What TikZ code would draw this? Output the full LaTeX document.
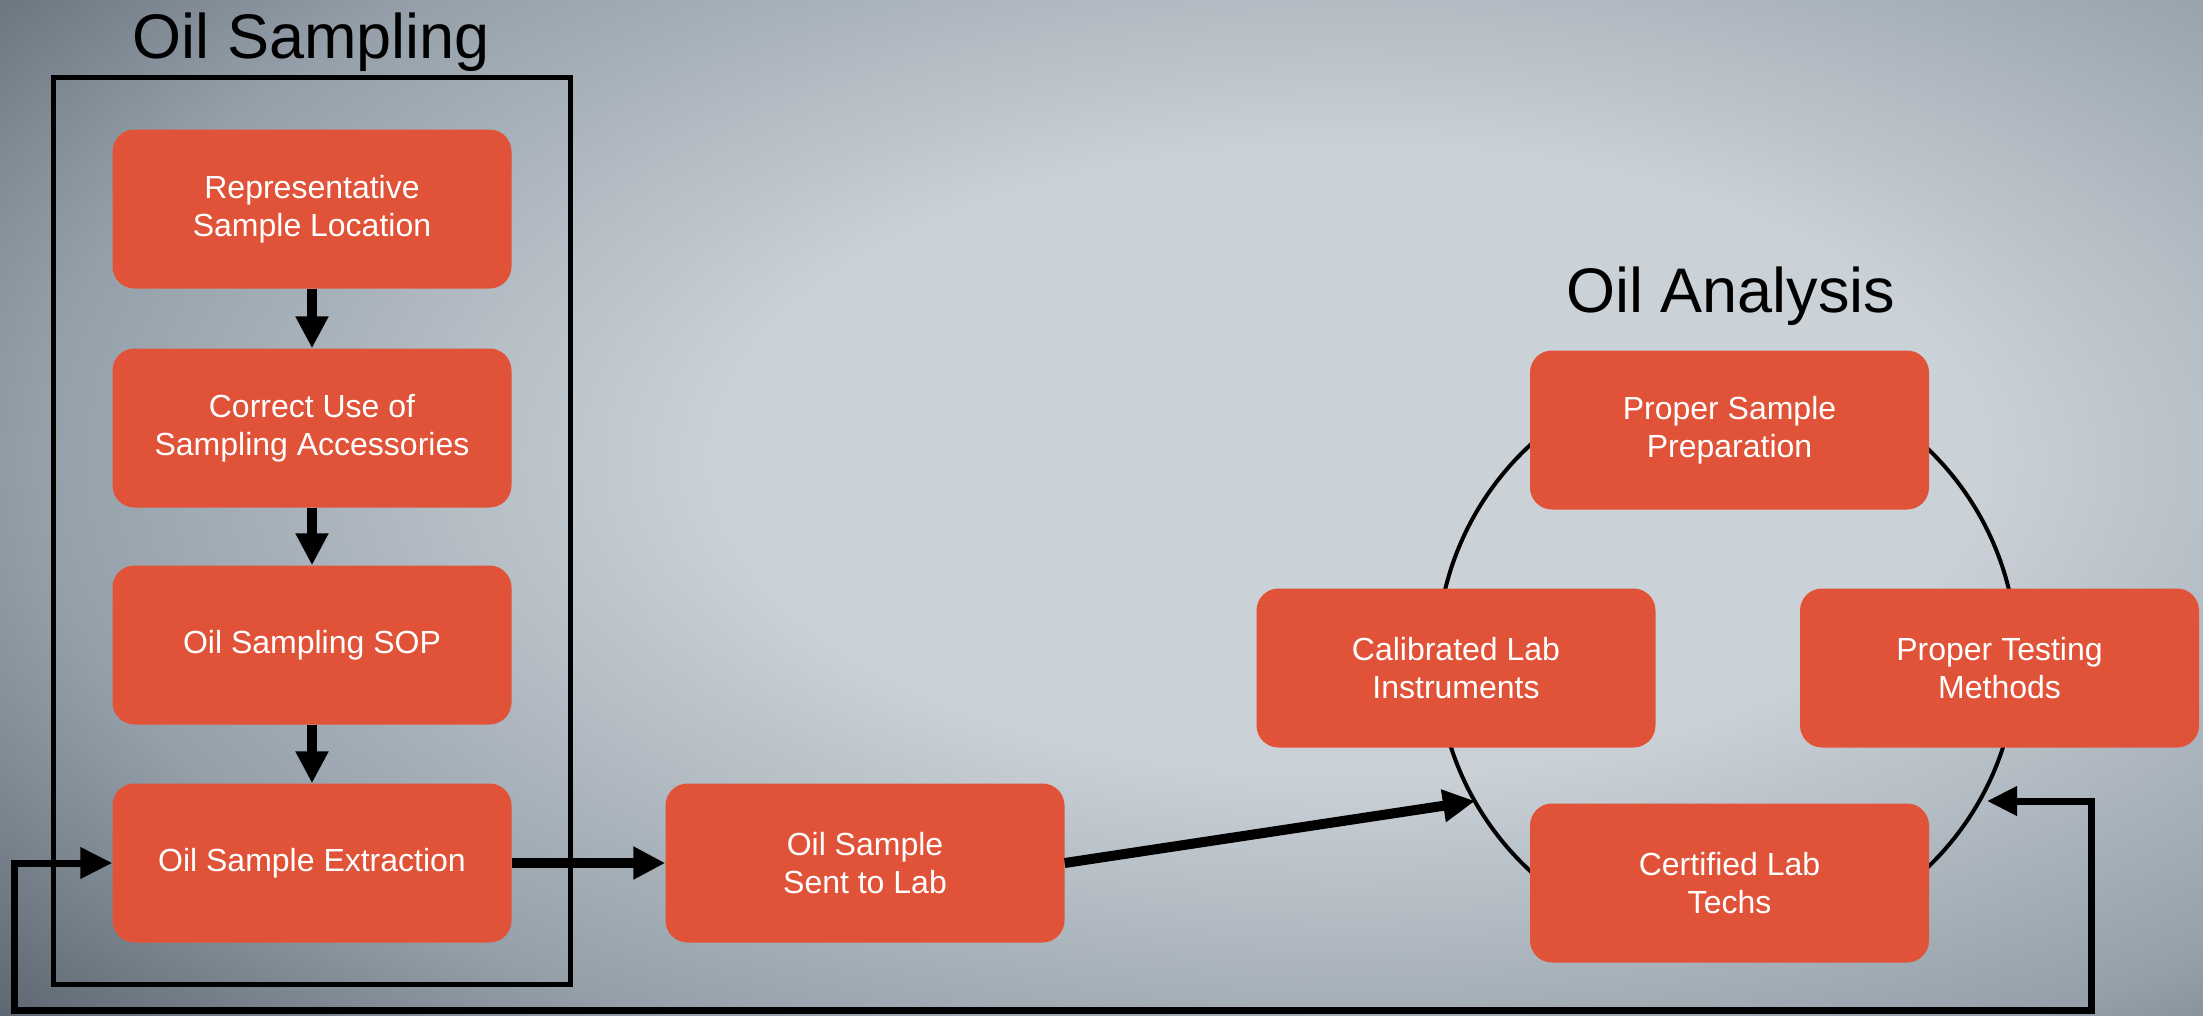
\documentclass[tikz,border=0pt]{standalone}
\usepackage{fontspec}
\setmainfont{Liberation Sans}
\usetikzlibrary{arrows.meta}
\definecolor{boxfill}{HTML}{E05338}
\definecolor{bglight}{HTML}{CAD1D7}
\definecolor{bgmid}{HTML}{949FA9}
\definecolor{bgdark}{HTML}{3E4853}
\pgfdeclareradialshading{vignette}{\pgfpoint{0bp}{0bp}}{color(0bp)=(bglight); color(11bp)=(bglight); color(23bp)=(bgmid); color(35bp)=(bgdark); color(50bp)=(bgdark)}
\begin{document}
\begin{tikzpicture}[x=1pt,y=-1pt,
  box/.style={fill=boxfill, rounded corners=22pt, minimum width=399pt, minimum height=159pt,
    text=white, align=center, inner sep=0pt, font=\fontsize{32}{38}\selectfont},
  heading/.style={font=\fontsize{63}{75}\selectfont, text=black, anchor=base, inner sep=0pt},
  frame/.style={draw=black, line width=5pt, minimum width=517pt, minimum height=907pt, inner sep=0pt},
  bigarrow/.style={line width=10pt, -{Triangle[length=32pt,width=31pt]}},
  fbline/.style={line width=7pt, {Triangle[length=32pt,width=30pt]}-{Triangle[length=30pt,width=28pt]}},
  ring/.style={draw=black, line width=4pt}
]
\useasboundingbox (0,0) rectangle (2203,1015);
\begin{scope}
  \clip (0,0) rectangle (2203,1015);
  \fill[bgdark] (0,0) rectangle (2203,1015);
  \shade[shading=vignette] (-80,-250) rectangle (2780,1170);
\end{scope}

% titles
\node[heading] (t1) at (311.5,58) {Oil Sampling};
\node[heading] (t2) at (1731,312) {Oil Analysis};

% group frame
\node[frame] (grp) at (311.5,530.5) {};

% left column
\node[box] (b1) at (312,209) {Representative\\Sample Location};
\node[box] (b2) at (312,428) {Correct Use of\\Sampling Accessories};
\node[box] (b3) at (312,645) {Oil Sampling SOP};
\node[box] (b4) at (312,863) {Oil Sample Extraction};
\node[box] (sent) at (865,863) {Oil Sample\\Sent to Lab};

% analysis ring
\coordinate (cc) at (1727,658);
\draw[ring] (cc) circle [radius=290];
\node[box] (a1) at (1729.5,430) {Proper Sample\\Preparation};
\node[box] (a2) at (1456,668) {Calibrated Lab\\Instruments};
\node[box] (a3) at (1999.5,668) {Proper Testing\\Methods};
\node[box] (a4) at (1729.5,883) {Certified Lab\\Techs};

% connectors
\draw[bigarrow] (b1) -- (b2);
\draw[bigarrow] (b2) -- (b3);
\draw[bigarrow] (b3) -- (b4);
\draw[bigarrow] (b4) -- (sent);
\coordinate (tipL) at (1475,801);
\draw[bigarrow] (sent.east) -- (tipL);

\coordinate (tipR) at (1987,801);
\coordinate (fbL) at (14,1010);
\coordinate (fbR) at (2091,1010);
\draw[fbline] (b4.west) -- (b4.west -| fbL) -- (fbL) -- (fbR) -- (fbR |- tipR) -- (tipR);
\end{tikzpicture}
\end{document}
